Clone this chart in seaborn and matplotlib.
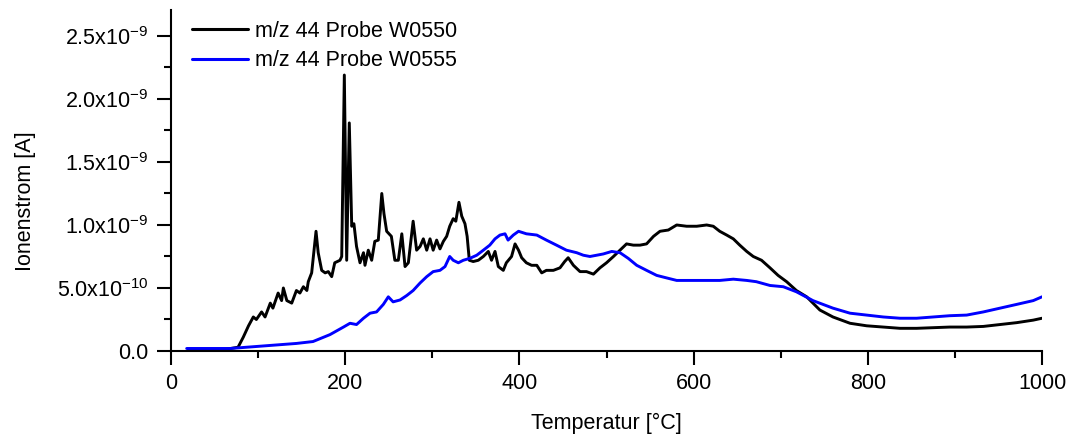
import matplotlib
matplotlib.use("Agg")
import matplotlib.pyplot as plt
import matplotlib.ticker as mticker
import numpy as np
import pandas as pd
import seaborn as sns

# ---- data (temperature in °C, ion current in units of 1e-9 A) ----
w0550_T = [20, 60, 77, 83, 89, 94.5, 98, 104, 108, 114, 117, 123, 127, 129, 133, 138.6, 144, 148,
           152, 156, 157.6, 161.5, 166.5, 169, 173, 177, 180.6, 184.5, 188, 194, 196, 199, 201.7,
           204.7, 207.5, 210, 213, 217, 221, 222.7, 226.5, 230.4, 234, 238, 242, 244.5, 247.6, 253,
           257, 261, 265, 268.7, 272.5, 278, 282, 286, 289.7, 293.6, 297.4, 301, 305, 308.8, 312.7,
           316.5, 320, 324, 327, 330.6, 333.8, 337.5, 340, 342.5, 347, 352.8, 358.6, 364.3, 368, 372,
           375.8, 381.5, 385, 391, 395, 399, 402.6, 408, 414, 420, 425.6, 431, 439, 446.6, 452, 456,
           462, 469.6, 477, 485, 492.5, 500, 508, 515.5, 523, 530.8, 538.5, 546, 554, 561.4, 571,
           580.6, 592, 603.6, 615, 622.6, 630, 638, 645.6, 653, 661, 668.5, 678, 687.7, 697, 706.8,
           718, 729.8, 745, 760, 779.6, 798.7, 817.8, 837, 856, 875, 894, 913.5, 932.6, 951.8, 971,
           990, 1000]
w0550_I = [0.01, 0.01, 0.03, 0.11, 0.20, 0.27, 0.25, 0.31, 0.27, 0.38, 0.34, 0.46, 0.40, 0.50, 0.40,
           0.38, 0.48, 0.46, 0.51, 0.48, 0.55, 0.62, 0.95, 0.78, 0.64, 0.62, 0.63, 0.59, 0.70, 0.72,
           0.75, 2.19, 0.72, 1.81, 0.99, 1.01, 0.83, 0.70, 0.78, 0.68, 0.80, 0.72, 0.87, 0.88, 1.25,
           1.09, 0.95, 0.91, 0.72, 0.72, 0.93, 0.67, 0.70, 1.03, 0.80, 0.83, 0.89, 0.80, 0.89, 0.80,
           0.88, 0.81, 0.87, 0.91, 0.99, 1.05, 1.03, 1.18, 1.07, 1.01, 0.91, 0.72, 0.71, 0.72, 0.75,
           0.79, 0.72, 0.79, 0.67, 0.64, 0.70, 0.75, 0.85, 0.80, 0.74, 0.70, 0.68, 0.68, 0.62, 0.64,
           0.64, 0.66, 0.71, 0.74, 0.68, 0.63, 0.63, 0.61, 0.66, 0.70, 0.75, 0.80, 0.85, 0.84, 0.84,
           0.85, 0.91, 0.95, 0.96, 1.00, 0.99, 0.99, 1.00, 0.99, 0.95, 0.92, 0.89, 0.84, 0.79, 0.75,
           0.72, 0.66, 0.60, 0.55, 0.48, 0.43, 0.325, 0.27, 0.22, 0.20, 0.19, 0.18, 0.18, 0.185, 0.19,
           0.19, 0.195, 0.21, 0.225, 0.245, 0.26]

w0555_T = [18, 68, 106, 144, 163, 182.5, 198, 205.5, 213, 221, 228.5, 236, 243.8, 249.5, 255, 263,
           270.6, 278, 286, 293.6, 301, 308.8, 314.6, 320, 324, 329.9, 335.6, 343, 351, 358.6, 366,
           372, 377.7, 383.5, 387, 393, 399, 408, 420, 431, 442.6, 454, 465.8, 473.4, 481, 488.7,
           496.3, 506, 515.5, 525, 534.7, 546, 557.6, 569, 580.6, 595.9, 611, 630, 645.6, 661, 672,
           687.7, 703, 718, 731.7, 737, 760, 779.6, 798.7, 817.8, 837, 856, 875, 894, 913.5, 932.6,
           951.8, 971, 990, 1000]
w0555_I = [0.02, 0.02, 0.04, 0.06, 0.075, 0.13, 0.19, 0.22, 0.21, 0.26, 0.30, 0.31, 0.37, 0.43, 0.39,
           0.405, 0.44, 0.48, 0.54, 0.59, 0.63, 0.64, 0.67, 0.75, 0.72, 0.70, 0.72, 0.735, 0.76, 0.80,
           0.84, 0.89, 0.92, 0.93, 0.88, 0.92, 0.95, 0.93, 0.92, 0.88, 0.84, 0.80, 0.78, 0.76, 0.75,
           0.76, 0.77, 0.79, 0.78, 0.735, 0.68, 0.64, 0.60, 0.58, 0.56, 0.56, 0.56, 0.56, 0.57, 0.56,
           0.55, 0.52, 0.51, 0.47, 0.42, 0.40, 0.34, 0.30, 0.285, 0.27, 0.26, 0.26, 0.27, 0.28, 0.285,
           0.31, 0.34, 0.37, 0.40, 0.43]

series_labels = ["m/z 44 Probe W0550", "m/z 44 Probe W0555"]
series_colors = ["#000000", "#0000FF"]

y_ticks = [0.0, 0.5e-9, 1.0e-9, 1.5e-9, 2.0e-9, 2.5e-9]
y_ticklabels = ["0.0", "5.0x10$^{-10}$", "1.0x10$^{-9}$", "1.5x10$^{-9}$",
                "2.0x10$^{-9}$", "2.5x10$^{-9}$"]
x_ticks = [0, 200, 400, 600, 800, 1000]

# ---- build long table ----
df = pd.concat([
    pd.DataFrame({"T": w0550_T, "I": np.array(w0550_I) * 1e-9, "s": series_labels[0]}),
    pd.DataFrame({"T": w0555_T, "I": np.array(w0555_I) * 1e-9, "s": series_labels[1]}),
], ignore_index=True)

sns.set_style("ticks")
plt.rcParams["font.family"] = ["Liberation Sans", "DejaVu Sans"]
plt.rcParams["mathtext.fontset"] = "custom"
plt.rcParams["mathtext.rm"] = "Liberation Sans"
plt.rcParams["mathtext.default"] = "regular"
for k in ("text.color", "axes.labelcolor", "xtick.color", "ytick.color", "axes.edgecolor"):
    plt.rcParams[k] = "black"

fs = 15.5
fig = plt.figure(figsize=(10.74, 4.47), dpi=100)
ax = fig.add_axes([171 / 1074, 1 - 351 / 447, (1042 - 171) / 1074, (351 - 10) / 447])

sns.lineplot(data=df, x="T", y="I", hue="s", palette=series_colors, hue_order=series_labels,
             ax=ax, linewidth=2.1, estimator=None, sort=False)

ax.set_xlim(0, 1000)
ax.set_ylim(0, 2.706e-9)
ax.set_xticks(x_ticks)
ax.set_xticklabels([str(v) for v in x_ticks])
ax.xaxis.set_minor_locator(mticker.MultipleLocator(100))
ax.set_yticks(y_ticks)
ax.set_yticklabels(y_ticklabels)
ax.yaxis.set_minor_locator(mticker.MultipleLocator(0.25e-9))

sns.despine(ax=ax)
for sp in ("left", "bottom"):
    ax.spines[sp].set_linewidth(1.5)
    ax.spines[sp].set_color("black")
ax.tick_params(which="major", direction="out", length=10, width=1.5, labelsize=fs, pad=6,
               colors="black")
ax.tick_params(which="minor", direction="out", length=5, width=1.5, colors="black")

ax.set_xlabel("Temperatur [°C]", fontsize=fs, color="black")
ax.set_ylabel("Ionenstrom [A]", fontsize=fs, color="black")
ax.xaxis.set_label_coords(0.5, -0.18)
ax.yaxis.set_label_coords(-0.155, 0.44)

leg = ax.legend(loc="upper left", bbox_to_anchor=(0.012, 1.0), frameon=False, fontsize=fs,
                handlelength=2.6, handletextpad=0.3, labelspacing=0.4, borderaxespad=0.1)
for h in leg.get_lines():
    h.set_linewidth(2.2)
for t in leg.get_texts():
    t.set_color("black")

fig.savefig("out.png", dpi=100)
